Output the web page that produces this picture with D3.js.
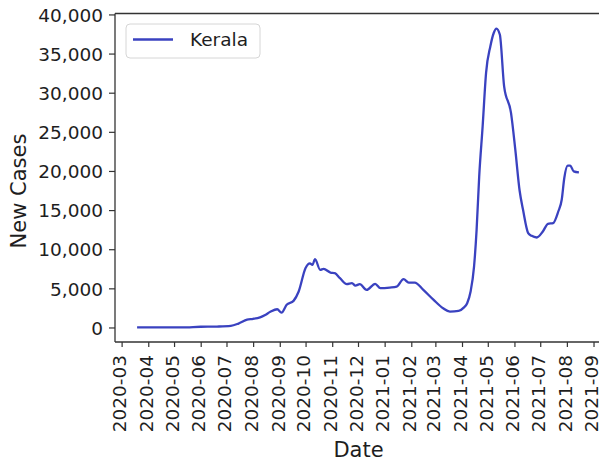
<!DOCTYPE html>
<html>
<head>
<meta charset="utf-8">
<script src="https://cdn.jsdelivr.net/npm/d3@7"></script>
<style>
  html, body { margin: 0; padding: 0; background: #fff; }
  svg { display: block; font-family: "DejaVu Sans", sans-serif; }
</style>
</head>
<body>
<svg id="chart" width="599" height="463"></svg>
<script>
// Kerala: daily new COVID-19 cases (7-day smoothed)
const dates = [
  "2020-03-19","2020-04-10","2020-05-10","2020-06-01","2020-06-20","2020-07-06",
  "2020-07-15","2020-07-25","2020-08-01","2020-08-09","2020-08-15","2020-08-21",
  "2020-08-29","2020-09-03","2020-09-09","2020-09-17","2020-09-23","2020-10-01",
  "2020-10-06","2020-10-09","2020-10-12","2020-10-18","2020-10-22","2020-10-30",
  "2020-11-04","2020-11-10","2020-11-18","2020-11-24","2020-11-28","2020-12-03",
  "2020-12-11","2020-12-21","2020-12-27","2021-01-07","2021-01-15","2021-01-23",
  "2021-01-29","2021-02-05","2021-02-15","2021-02-27","2021-03-10","2021-03-18",
  "2021-03-28","2021-04-03","2021-04-07","2021-04-11","2021-04-15","2021-04-18",
  "2021-04-21","2021-04-25","2021-04-29","2021-05-04","2021-05-08","2021-05-11",
  "2021-05-15","2021-05-20","2021-05-28","2021-06-02","2021-06-07","2021-06-11",
  "2021-06-17","2021-06-21","2021-06-27","2021-07-04","2021-07-10","2021-07-16",
  "2021-07-22","2021-07-26","2021-07-29","2021-08-02","2021-08-05","2021-08-09",
  "2021-08-15"
];
const newCases = [
    20,   20,   20,   90,  120,  200,
   500, 1000, 1100, 1300, 1600, 2000,
  2330, 1900, 2900, 3400, 4600, 7600,
  8200, 8000, 8730, 7360, 7490, 7010,
  6940, 6300, 5530, 5660, 5350, 5530,
  4800, 5570, 5020, 5100, 5220, 6170,
  5730, 5730, 4800, 3520, 2450, 2020,
  2110, 2540, 3100, 4600, 7780, 12500,
 19300,25700,32540,35940,37660,38200,
 37440,30820,27420,22720,17500,15040,
 12060,11710,11500,12260,13250,13340,
 14820,16320,19100,20670,20670,19940,
 19810
];
const yTicks = [0, 5000, 10000, 15000, 20000, 25000, 30000, 35000, 40000];
const yLimits = [-1856, 40120];
const seriesName = "Kerala";

const parse = d3.timeParse("%Y-%m-%d");
const data = dates.map((d, i) => ({ date: parse(d), value: newCases[i] }));

const svg = d3.select("#chart");
const plotLeft = 115, plotRight = 601, plotTop = 13.5, plotBottom = 342;
const fontSize = 18.5;
const titleSize = 21;
const textColor = "#1e1e1e";
const lineColor = "#3a42c0";

// 5% padding on the date axis, as in a default matplotlib plot
const [d0, d1] = d3.extent(data, d => d.date);
const pad = (d1 - d0) * 0.05;
const x = d3.scaleTime()
  .domain([new Date(+d0 - pad), new Date(+d1 + pad)])
  .range([plotLeft, plotRight]);

const y = d3.scaleLinear()
  .domain(yLimits)
  .range([plotBottom, plotTop]);

svg.append("rect").attr("width", 599).attr("height", 463).attr("fill", "#fff");

// line
const line = d3.line()
  .x(d => x(d.date))
  .y(d => y(d.value))
  .curve(d3.curveMonotoneX);

svg.append("path")
  .datum(data)
  .attr("fill", "none")
  .attr("stroke", lineColor)
  .attr("stroke-width", 2.3)
  .attr("stroke-linejoin", "round")
  .attr("d", line);

// spines
const spine = svg.append("g").attr("stroke", "#333").attr("stroke-width", 1.3);
spine.append("line").attr("x1", plotLeft).attr("x2", plotLeft).attr("y1", plotTop).attr("y2", plotBottom);
spine.append("line").attr("x1", plotLeft).attr("x2", 599).attr("y1", plotBottom).attr("y2", plotBottom);
spine.append("line").attr("x1", plotLeft).attr("x2", 599).attr("y1", plotTop).attr("y2", plotTop);

// y axis
const yAxis = d3.axisLeft(y).tickValues(yTicks).tickFormat(d3.format(",")).tickSize(6).tickPadding(6);
const gy = svg.append("g").attr("transform", `translate(${plotLeft},0)`).call(yAxis);
gy.select(".domain").remove();
gy.selectAll(".tick line").attr("stroke", "#333").attr("stroke-width", 1.2);
gy.selectAll(".tick text")
  .attr("font-size", fontSize)
  .attr("font-family", "DejaVu Sans")
  .attr("fill", textColor)
  .attr("dy", "0.36em");

// x axis: monthly ticks, labels rotated
const months = x.ticks(d3.timeMonth.every(1));
const xAxis = d3.axisBottom(x).tickValues(months).tickFormat(d3.timeFormat("%Y-%m")).tickSize(5);
const gx = svg.append("g").attr("transform", `translate(0,${plotBottom})`).call(xAxis);
gx.select(".domain").remove();
gx.selectAll(".tick line").attr("stroke", "#333").attr("stroke-width", 1.2);
gx.selectAll(".tick text")
  .attr("font-size", fontSize)
  .attr("font-family", "DejaVu Sans")
  .attr("fill", textColor)
  .attr("text-anchor", "end")
  .attr("x", 0)
  .attr("y", 0)
  .attr("dy", "0.23em")
  .attr("transform", "translate(0,13) rotate(-90)");

// axis titles
svg.append("text")
  .attr("transform", "translate(26,191) rotate(-90)")
  .attr("text-anchor", "middle")
  .attr("font-size", titleSize)
  .attr("fill", textColor)
  .text("New Cases");

svg.append("text")
  .attr("x", 358.5)
  .attr("y", 457)
  .attr("text-anchor", "middle")
  .attr("font-size", titleSize)
  .attr("fill", textColor)
  .text("Date");

// legend
const lg = svg.append("g");
lg.append("rect")
  .attr("x", 126).attr("y", 24).attr("width", 134).attr("height", 34)
  .attr("rx", 4)
  .attr("fill", "#fff").attr("fill-opacity", 0.8)
  .attr("stroke", "#d6d6d6").attr("stroke-width", 1);
lg.append("line")
  .attr("x1", 133).attr("x2", 173).attr("y1", 39.5).attr("y2", 39.5)
  .attr("stroke", lineColor).attr("stroke-width", 2.3);
lg.append("text")
  .attr("x", 190).attr("y", 46)
  .attr("font-size", fontSize)
  .attr("fill", textColor)
  .text(seriesName);
</script>
</body>
</html>
